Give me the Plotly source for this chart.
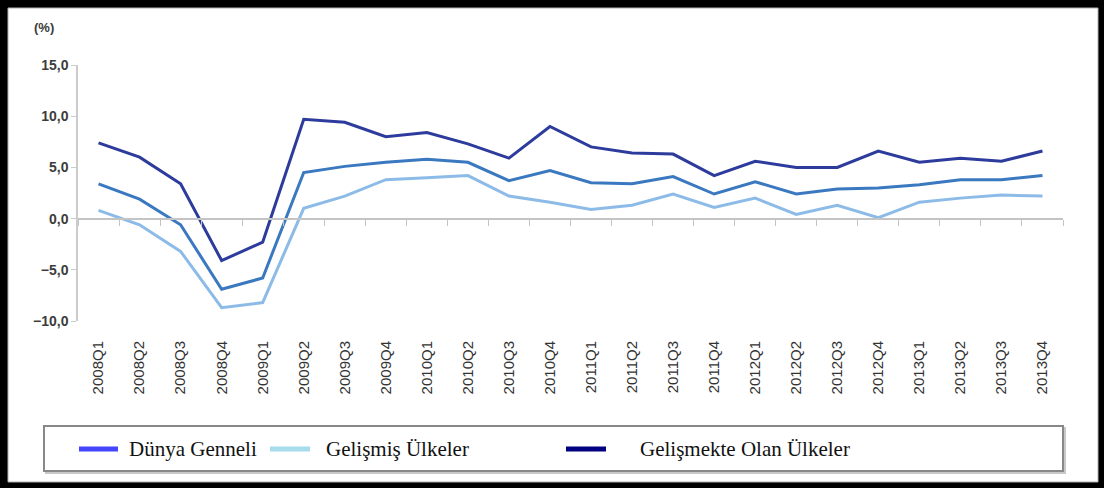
import plotly.graph_objects as go

W, H = 1104, 488

quarters = ["2008Q1", "2008Q2", "2008Q3", "2008Q4",
            "2009Q1", "2009Q2", "2009Q3", "2009Q4",
            "2010Q1", "2010Q2", "2010Q3", "2010Q4",
            "2011Q1", "2011Q2", "2011Q3", "2011Q4",
            "2012Q1", "2012Q2", "2012Q3", "2012Q4",
            "2013Q1", "2013Q2", "2013Q3", "2013Q4"]

dunya = [3.4, 1.9, -0.6, -6.9, -5.8, 4.5, 5.1, 5.5, 5.8, 5.5, 3.7, 4.7,
         3.5, 3.4, 4.1, 2.4, 3.6, 2.4, 2.9, 3.0, 3.3, 3.8, 3.8, 4.2]
gelismis = [0.8, -0.6, -3.2, -8.7, -8.2, 1.0, 2.2, 3.8, 4.0, 4.2, 2.2, 1.6,
            0.9, 1.3, 2.4, 1.1, 2.0, 0.4, 1.3, 0.1, 1.6, 2.0, 2.3, 2.2]
gelismekte = [7.4, 6.0, 3.4, -4.1, -2.3, 9.7, 9.4, 8.0, 8.4, 7.3, 5.9, 9.0,
              7.0, 6.4, 6.3, 4.2, 5.6, 5.0, 5.0, 6.6, 5.5, 5.9, 5.6, 6.6]

series_names = ["Dünya Genneli", "Gelişmiş Ülkeler", "Gelişmekte Olan Ülkeler"]

# colours of the plotted lines and (different) colours of the legend keys
line_colors = ["#3a78c0", "#8dbbe8", "#2d3c9c"]
key_colors = ["#4545ff", "#a6dcec", "#000080"]


def px_x(p):
    return p / W


def px_y(p):
    return (H - p) / H


fig = go.Figure()

for vals, col, name in zip([gelismis, dunya, gelismekte],
                           [line_colors[1], line_colors[0], line_colors[2]],
                           [series_names[1], series_names[0], series_names[2]]):
    fig.add_trace(go.Scatter(x=quarters, y=vals, mode="lines", name=name,
                             line=dict(color=col, width=3), showlegend=False))

# dummy trace so the zero-line category axis is drawn
fig.add_trace(go.Scatter(x=quarters, y=[None] * len(quarters), xaxis="x2",
                         showlegend=False, hoverinfo="skip"))

y0, y1 = px_y(321), px_y(65)
zero_pos = y0 + (0 - (-10)) / 25 * (y1 - y0)

fig.update_layout(
    width=W, height=H,
    margin=dict(l=0, r=0, t=0, b=0),
    paper_bgcolor="black",
    plot_bgcolor="rgba(0,0,0,0)",
    separators=",.",
    font=dict(family="Liberation Sans, Arial, sans-serif", color="#3a3a3a"),
    xaxis=dict(
        type="category", domain=[px_x(78), px_x(1063)],
        range=[-0.5, 23.5], automargin=False,
        tickangle=-90, ticks="", showline=False, showgrid=False,
        ticklabelstandoff=16,
        tickfont=dict(size=15, color="#333333"),
    ),
    xaxis2=dict(
        type="category", overlaying="x", anchor="free", position=zero_pos,
        range=[-0.5, 23.5], tickson="boundaries", automargin=False,
        ticks="outside", ticklen=6, tickwidth=1, tickcolor="#c4c4c4",
        showline=True, linecolor="#c4c4c4", linewidth=2,
        showticklabels=False, showgrid=False,
    ),
    yaxis=dict(
        domain=[y0, y1], range=[-10, 15], dtick=5, tickformat=".1f",
        showgrid=False, zeroline=False, automargin=False,
        showline=True, linecolor="#cccccc", linewidth=1.5,
        ticks="outside", ticklen=5, tickcolor="#cccccc",
        tickfont=dict(size=14, color="#3c3c3c", weight="bold"),
    ),
    shapes=[
        # white page inside the black frame
        dict(type="rect", xref="paper", yref="paper", layer="below",
             x0=px_x(8), x1=px_x(1098), y0=px_y(482), y1=px_y(8),
             fillcolor="white", line=dict(color="#b0b0b0", width=1)),
        # legend box shadow + box
        dict(type="rect", xref="paper", yref="paper", layer="below",
             x0=px_x(46), x1=px_x(1065), y0=px_y(473), y1=px_y(428),
             fillcolor="rgba(0,0,0,0)", line=dict(color="#c8c8c8", width=2)),
        dict(type="rect", xref="paper", yref="paper", layer="below",
             x0=px_x(44), x1=px_x(1063), y0=px_y(471), y1=px_y(426),
             fillcolor="white", line=dict(color="#888888", width=2)),
    ],
    annotations=[
        dict(text="<b>(%)</b>", xref="paper", yref="paper",
             x=px_x(44), y=px_y(28), xanchor="center", yanchor="middle",
             showarrow=False, font=dict(size=13, color="#3c3c3c")),
    ],
)

key_x = [(79, 118, 127), (270, 310, 324), (566, 606, 638)]
for (a, b, t), col, name in zip(key_x, key_colors, series_names):
    fig.add_shape(type="line", xref="paper", yref="paper",
                  x0=px_x(a), x1=px_x(b), y0=px_y(449), y1=px_y(449),
                  line=dict(color=col, width=5))
    fig.add_annotation(text=name, xref="paper", yref="paper",
                       x=px_x(t), y=px_y(449), xanchor="left", yanchor="middle",
                       showarrow=False,
                       font=dict(family="Liberation Serif, Times New Roman, serif",
                                 size=21, color="#111111"))

# the page body has a default 8px margin; drop it so the figure fills the window
fig.write_html("out.html",
               config={"displayModeBar": False},
               post_script="document.body.style.margin='0';"
                           "document.body.style.overflow='hidden';")
